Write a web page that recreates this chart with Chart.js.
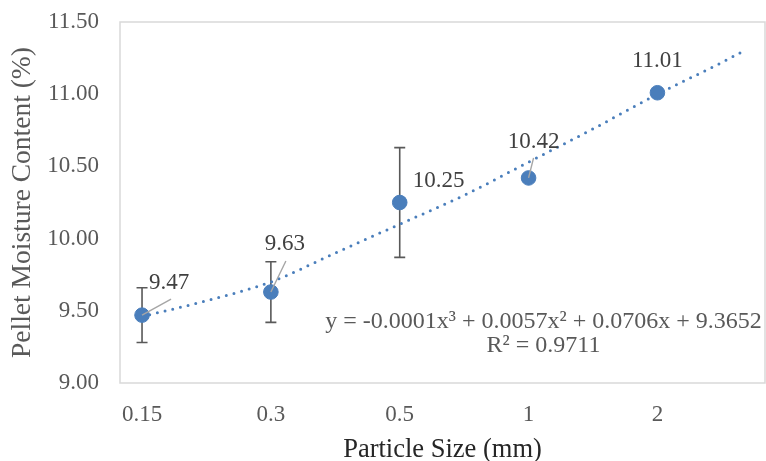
<!DOCTYPE html>
<html>
<head>
<meta charset="utf-8">
<script src="https://cdn.jsdelivr.net/npm/chart.js@4/dist/chart.umd.min.js"></script>
<style>
  html, body { margin: 0; padding: 0; background: #fff; }
  #wrap { width: 766px; height: 461px; }
</style>
</head>
<body>
<div id="wrap"><canvas id="moistureChart"></canvas></div>
<script>
// particle size categories and pellet moisture (%)
const categories = ['0.15', '0.3', '0.5', '1', '2'];
const moisture = [9.47, 9.63, 10.25, 10.42, 11.01];
const moistureError = [0.19, 0.21, 0.38, 0, 0];
// polynomial trendline (x = category position)
const trendX = [1, 1.5, 2, 2.5, 3, 3.5, 4, 4.5, 5, 5.5, 5.67];
const trendY = [9.46, 9.57, 9.70, 9.90, 10.10, 10.30, 10.53, 10.76, 11.00, 11.22, 11.30];
const yTicks = [9.0, 9.5, 10.0, 10.5, 11.0, 11.5];
const equationLines = ['y = -0.0001x\u00B3 + 0.0057x\u00B2 + 0.0706x + 9.3652', 'R\u00B2 = 0.9711'];

const blue = '#4a7ebb';
const FONT = "'Liberation Serif', 'Times New Roman', serif";

// label placement (px offsets from the marker) and leader line ends
const labelOffsets = [[27, -32], [14, -48], [39, -22], [5, -36], [0, -32]];
const leaderEnds = [[29, -16], [15, -31], null, [5, -20], null];

const pointData = moisture.map((v, i) => ({ x: i + 1, y: v }));
const trendData = trendX.map((x, i) => ({ x: x, y: trendY[i] }));

const frame = {
  id: 'frame',
  beforeDraw(chart) {
    const { ctx, chartArea: a } = chart;
    ctx.save();
    ctx.strokeStyle = '#d9d9d9';
    ctx.lineWidth = 1.5;
    ctx.strokeRect(a.left, a.top, a.right - a.left, a.bottom - a.top);
    ctx.restore();
  }
};

const errorBars = {
  id: 'errorBars',
  beforeDatasetsDraw(chart) {
    const { ctx, scales: { x, y } } = chart;
    ctx.save();
    ctx.strokeStyle = '#595959';
    ctx.lineWidth = 1.6;
    moisture.forEach((v, i) => {
      const e = moistureError[i];
      if (!e) return;
      const px = x.getPixelForValue(i + 1);
      const top = y.getPixelForValue(v + e);
      const bot = y.getPixelForValue(v - e);
      ctx.beginPath();
      ctx.moveTo(px, top); ctx.lineTo(px, bot);
      ctx.moveTo(px - 5.5, top); ctx.lineTo(px + 5.5, top);
      ctx.moveTo(px - 5.5, bot); ctx.lineTo(px + 5.5, bot);
      ctx.stroke();
    });
    ctx.restore();
  }
};

const labels = {
  id: 'labels',
  afterDatasetsDraw(chart) {
    const { ctx, scales: { x, y } } = chart;
    ctx.save();
    // leader lines
    ctx.strokeStyle = '#a6a6a6';
    ctx.lineWidth = 1.4;
    moisture.forEach((v, i) => {
      const end = leaderEnds[i];
      if (!end) return;
      const px = x.getPixelForValue(i + 1);
      const py = y.getPixelForValue(v);
      ctx.beginPath();
      ctx.moveTo(px, py);
      ctx.lineTo(px + end[0], py + end[1]);
      ctx.stroke();
    });
    // value labels
    ctx.font = '23px ' + FONT;
    ctx.fillStyle = '#404040';
    ctx.textAlign = 'center';
    ctx.textBaseline = 'middle';
    moisture.forEach((v, i) => {
      const px = x.getPixelForValue(i + 1);
      const py = y.getPixelForValue(v);
      ctx.fillText(v.toFixed(2), px + labelOffsets[i][0], py + labelOffsets[i][1]);
    });
    // trendline equation
    ctx.font = '24px ' + FONT;
    ctx.fillStyle = '#595959';
    ctx.fillText(equationLines[0], 543.5, 322);
    ctx.fillText(equationLines[1], 543.5, 346);
    ctx.restore();
  }
};

new Chart(document.getElementById('moistureChart'), {
  type: 'scatter',
  data: {
    datasets: [
      {
        label: 'Moisture',
        data: pointData,
        backgroundColor: blue,
        borderColor: blue,
        pointRadius: 7.3,
        pointHoverRadius: 7.3,
        order: 0
      },
      {
        label: 'Trend',
        type: 'line',
        data: trendData,
        borderColor: blue,
        borderWidth: 3,
        borderDash: [0, 7.9],
        borderCapStyle: 'round',
        cubicInterpolationMode: 'monotone',
        pointRadius: 0,
        fill: false,
        order: 1
      }
    ]
  },
  options: {
    responsive: true,
    maintainAspectRatio: false,
    animation: false,
    layout: { autoPadding: false, padding: { top: 22, right: 1, left: 0, bottom: 0 } },
    plugins: {
      legend: { display: false },
      tooltip: { enabled: false }
    },
    scales: {
      x: {
        type: 'linear',
        min: 0.829,
        max: 5.835,
        afterFit(scale) {
          scale.height = 78;
          scale.paddingLeft = 0;
          scale.paddingRight = 0;
        },
        afterBuildTicks(scale) { scale.ticks = categories.map((c, i) => ({ value: i + 1 })); },
        grid: { display: false, drawTicks: false },
        border: { display: false },
        ticks: {
          padding: 18,
          color: '#595959',
          font: { family: FONT, size: 23 },
          callback: (v) => categories[v - 1]
        },
        title: {
          display: true,
          text: 'Particle Size (mm)',
          color: '#262626',
          font: { family: FONT, size: 26.5 },
          padding: { top: 0, bottom: -5 }
        }
      },
      y: {
        min: 9,
        max: 11.5,
        afterFit(scale) {
          scale.width = 120;
          scale.paddingTop = 0;
          scale.paddingBottom = 0;
        },
        afterBuildTicks(scale) { scale.ticks = yTicks.map(v => ({ value: v })); },
        grid: { display: false, drawTicks: false },
        border: { display: false },
        ticks: {
          padding: 21,
          color: '#595959',
          font: { family: FONT, size: 23 },
          callback: (v) => v.toFixed(2)
        },
        title: {
          display: true,
          text: 'Pellet Moisture Content (%)',
          color: '#595959',
          font: { family: FONT, size: 27.5 },
          padding: { top: 6.5, bottom: 0 }
        }
      }
    }
  },
  plugins: [frame, errorBars, labels]
});
</script>
</body>
</html>
